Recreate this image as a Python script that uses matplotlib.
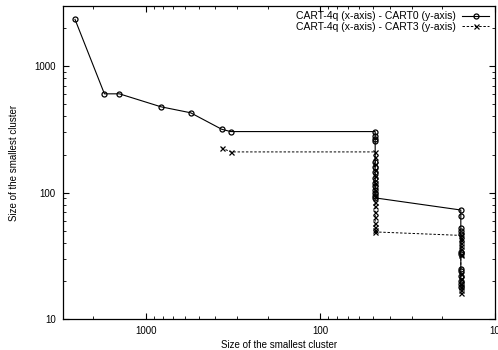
import matplotlib
matplotlib.use("Agg")
import matplotlib.pyplot as plt
from matplotlib.ticker import LogLocator, FixedLocator, NullFormatter, FuncFormatter

plt.rcParams['font.family'] = ['Liberation Sans', 'DejaVu Sans']

# CART-4q (x) vs CART0 (y)
cart0_x = [2550, 1730, 1420, 820, 555, 368, 327,
           48.6, 48.6, 48.6, 48.6, 48.6, 48.6, 48.6, 48.6, 48.6, 48.6, 48.6, 48.6, 48.6, 48.6,
           15.7, 15.7, 15.7, 15.7, 15.7, 15.7, 15.7, 15.7, 15.7, 15.7, 15.7, 15.7, 15.7]
cart0_y = [2340, 604, 604, 477, 428, 317, 304,
           304, 280, 265, 255, 175, 160, 145, 130, 120, 112, 105, 99, 95, 91,
           73, 65, 53, 50, 47, 34, 33, 25, 24, 22, 20, 19, 18]

# CART-4q (x) vs CART3 (y)
cart3_x = [368, 327,
           48.6, 48.6, 48.6, 48.6, 48.6, 48.6, 48.6, 48.6, 48.6, 48.6, 48.6, 48.6, 48.6, 48.6, 48.6, 48.6,
           15.7, 15.7, 15.7, 15.7, 15.7, 15.7, 15.7, 15.7, 15.7, 15.7, 15.7, 15.7, 15.7, 15.7]
cart3_y = [226, 210,
           210, 190, 170, 150, 135, 120, 105, 95, 85, 78, 70, 64, 58, 54, 51, 49,
           46, 44, 42, 40, 38, 36, 33, 32, 23, 21, 19, 18, 17, 16]

label0 = "CART-4q (x-axis) - CART0 (y-axis)"
label3 = "CART-4q (x-axis) - CART3 (y-axis)"
axis_label = "Size of the smallest cluster"
x_ticks = [1000, 100, 10]
y_ticks = [10, 100, 1000]

fig = plt.figure(figsize=(4.98, 3.5), dpi=100)
ax = fig.add_axes([0.1259, 0.0877, 0.994 - 0.1259, 0.9837 - 0.0877])

ax.plot(cart0_x, cart0_y, color='black', linewidth=0.8, marker='o', markersize=3.6,
        markerfacecolor='none', markeredgewidth=0.9, label=label0)
ax.plot(cart3_x, cart3_y, color='black', linewidth=0.7, linestyle=(0, (2.5, 1.8)), marker='x',
        markersize=3.6, markeredgewidth=0.9, label=label3)

ax.set_xscale('log')
ax.set_yscale('log')
ax.set_xlim(3000, 10)
ax.set_ylim(10, 3000)

ax.xaxis.set_major_locator(FixedLocator(x_ticks))
ax.yaxis.set_major_locator(FixedLocator(y_ticks))
ax.xaxis.set_minor_locator(LogLocator(base=10, subs=range(2, 10)))
ax.yaxis.set_minor_locator(LogLocator(base=10, subs=range(2, 10)))
fmt = FuncFormatter(lambda v, p: "%d" % round(v))
ax.xaxis.set_major_formatter(fmt)
ax.yaxis.set_major_formatter(fmt)
ax.xaxis.set_minor_formatter(NullFormatter())
ax.yaxis.set_minor_formatter(NullFormatter())

ax.tick_params(which='both', direction='in', top=True, right=True, labelsize=7, colors='black')
ax.tick_params(which='major', length=4, width=0.8, pad=5)
ax.tick_params(which='minor', length=2, width=0.6)
for s in ax.spines.values():
    s.set_linewidth(0.9)

ax.set_xlabel(axis_label, fontsize=7, labelpad=2.5)
ax.set_ylabel(axis_label, fontsize=7, labelpad=11)

ax.legend(loc='upper right', frameon=False, fontsize=7.5, markerfirst=False,
          handlelength=2.6, borderaxespad=0.15, labelspacing=0.05, handletextpad=0.6)

fig.savefig("out.png", dpi=100)
